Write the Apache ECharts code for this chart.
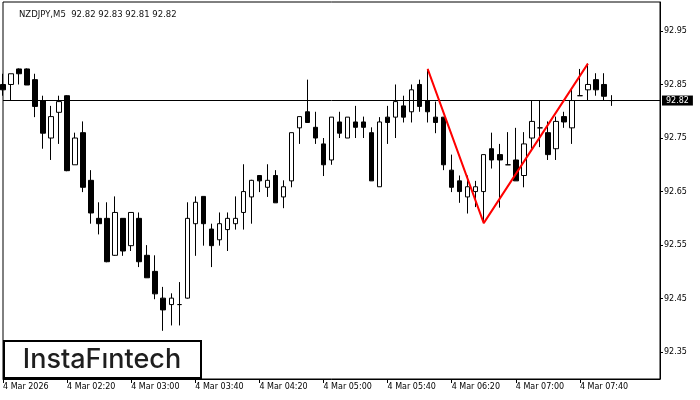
<!DOCTYPE html>
<html>
<head>
<meta charset="utf-8">
<script src="https://cdn.jsdelivr.net/npm/echarts@6/dist/echarts.min.js"></script>
<style>html,body{margin:0;padding:0;background:#fff;}#c{width:700px;height:400px;}</style>
</head>
<body>
<div id="c"></div>
<script>
var times = ['01:40','01:45','01:50','01:55','02:00','02:05','02:10','02:15','02:20','02:25','02:30','02:35','02:40','02:45','02:50','02:55',
'03:00','03:05','03:10','03:15','03:20','03:25','03:30','03:35','03:40','03:45','03:50','03:55','04:00','04:05','04:10','04:15',
'04:20','04:25','04:30','04:35','04:40','04:45','04:50','04:55','05:00','05:05','05:10','05:15','05:20','05:25','05:30','05:35',
'05:40','05:45','05:50','05:55','06:00','06:05','06:10','06:15','06:20','06:25','06:30','06:35','06:40','06:45','06:50','06:55',
'07:00','07:05','07:10','07:15','07:20','07:25','07:30','07:35','07:40','07:45','07:50','07:55','08:00'];

var opens  = [92.850,92.850,92.879,92.879,92.859,92.820,92.750,92.798,92.829,92.700,92.760,92.671,92.600,92.600,92.531,92.600,
92.549,92.600,92.531,92.501,92.451,92.439,92.439,92.451,92.590,92.641,92.580,92.560,92.579,92.590,92.611,92.640,
92.680,92.658,92.680,92.640,92.670,92.769,92.799,92.770,92.739,92.709,92.780,92.750,92.780,92.780,92.760,92.659,
92.789,92.789,92.810,92.799,92.850,92.819,92.789,92.789,92.690,92.670,92.640,92.650,92.650,92.730,92.719,92.700,
92.709,92.680,92.750,92.769,92.760,92.730,92.790,92.769,92.829,92.840,92.859,92.850,92.820];
var closes = [92.840,92.870,92.870,92.849,92.809,92.759,92.790,92.818,92.689,92.750,92.658,92.610,92.590,92.519,92.611,92.539,
92.611,92.519,92.489,92.459,92.429,92.451,92.439,92.600,92.630,92.590,92.549,92.590,92.600,92.600,92.650,92.671,
92.670,92.671,92.629,92.659,92.760,92.790,92.779,92.750,92.700,92.789,92.759,92.789,92.770,92.770,92.670,92.780,
92.779,92.818,92.789,92.840,92.809,92.799,92.779,92.700,92.658,92.650,92.659,92.659,92.719,92.709,92.709,92.700,
92.670,92.739,92.781,92.769,92.719,92.781,92.780,92.820,92.829,92.850,92.840,92.828,92.820];
var lows   = [92.829,92.820,92.850,92.849,92.789,92.730,92.709,92.739,92.688,92.700,92.649,92.590,92.570,92.518,92.530,92.530,
92.539,92.509,92.489,92.449,92.390,92.400,92.400,92.450,92.530,92.549,92.509,92.549,92.539,92.579,92.579,92.590,
92.649,92.640,92.629,92.619,92.658,92.739,92.779,92.739,92.679,92.700,92.750,92.750,92.750,92.750,92.670,92.659,
92.739,92.750,92.779,92.779,92.799,92.779,92.759,92.690,92.649,92.629,92.609,92.621,92.591,92.693,92.620,92.700,
92.670,92.658,92.730,92.733,92.709,92.709,92.769,92.739,92.829,92.820,92.829,92.820,92.810];
var highs  = [92.870,92.870,92.880,92.880,92.870,92.829,92.810,92.829,92.830,92.760,92.781,92.690,92.630,92.630,92.641,92.600,
92.611,92.611,92.550,92.531,92.472,92.460,92.481,92.630,92.641,92.641,92.590,92.611,92.611,92.641,92.701,92.672,
92.680,92.701,92.690,92.671,92.760,92.790,92.859,92.799,92.750,92.789,92.799,92.789,92.810,92.790,92.770,92.789,
92.810,92.850,92.829,92.850,92.859,92.879,92.818,92.789,92.719,92.680,92.680,92.670,92.719,92.760,92.739,92.761,
92.769,92.761,92.820,92.820,92.781,92.790,92.799,92.842,92.879,92.889,92.871,92.871,92.830];

var patternTimes  = ['06:05','06:40','07:45'];
var patternValues = [92.879, 92.591, 92.889];

var currentPrice = 92.82;
var yTickValues = [92.35, 92.45, 92.55, 92.65, 92.75, 92.85, 92.95];
var xTickLabels = ['4 Mar 2026','4 Mar 02:20','4 Mar 03:00','4 Mar 03:40','4 Mar 04:20','4 Mar 05:00','4 Mar 05:40','4 Mar 06:20','4 Mar 07:00','4 Mar 07:40'];
var titleText = 'NZDJPY,M5  92.82 92.83 92.81 92.82';

var candles = times.map(function (t, i) { return [opens[i], closes[i], lows[i], highs[i]]; });
var pattern = patternTimes.map(function (t, i) { return [t, patternValues[i]]; });

var FONT = 'DejaVu Sans';
var chart = echarts.init(document.getElementById('c'), null, { renderer: 'canvas' });
chart.setOption({
  animation: false,
  backgroundColor: '#fff',
  title: {
    text: titleText, left: 14, top: 5,
    textStyle: { fontFamily: FONT, fontSize: 8.5, fontWeight: 'normal', color: '#111' }
  },
  grid: { left: 3, right: 40, top: 2, bottom: 21, show: true, borderColor: '#000', borderWidth: 1, backgroundColor: 'transparent' },
  xAxis: {
    type: 'category', data: times, boundaryGap: false, max: 82,
    axisLine: { lineStyle: { color: '#000', width: 1 } },
    axisTick: { length: 4, lineStyle: { color: '#000' }, interval: function (i) { return i % 8 === 0 && i < times.length; } },
    axisLabel: {
      interval: function (i) { return i % 8 === 0 && i < times.length; },
      formatter: function (v, i) { return xTickLabels[i / 8] || ''; },
      align: 'left', margin: 4, fontFamily: FONT, fontSize: 8, color: '#000'
    },
    splitLine: { show: false }
  },
  yAxis: {
    type: 'value', position: 'right', min: 92.30, max: 93.004, scale: true,
    axisLine: { show: true, lineStyle: { color: '#000', width: 1 } },
    axisTick: { show: true, length: 3, lineStyle: { color: '#000' }, customValues: yTickValues },
    axisLabel: { customValues: yTickValues, formatter: function (v) { return v.toFixed(2); }, margin: 4, fontFamily: FONT, fontSize: 8, color: '#000' },
    splitLine: { show: false }
  },
  series: [
    {
      type: 'candlestick', data: candles, barWidth: 5, clip: true,
      itemStyle: { color: '#fff', color0: '#000', borderColor: '#000', borderColor0: '#000', borderColorDoji: '#000', borderWidth: 1 },
      markLine: {
        silent: true, symbol: 'none', animation: false,
        lineStyle: { color: '#000', width: 1, type: 'solid' },
        label: {
          position: 'end', distance: 2, formatter: function () { return currentPrice.toFixed(2); },
          backgroundColor: '#000', color: '#fff', fontFamily: FONT, fontSize: 8, padding: [1, 4, 0, 4], lineHeight: 9
        },
        data: [{ yAxis: currentPrice }]
      },
      z: 2
    },
    {
      type: 'line', data: pattern, showSymbol: false, symbol: 'none',
      lineStyle: { color: '#ff0000', width: 2 }, z: 5
    }
  ],
  graphic: [
    { type: 'rect', shape: { x: 4, y: 341, width: 197, height: 37 }, style: { fill: '#fff', stroke: '#000', lineWidth: 2 }, z: 100 },
    { type: 'text', x: 102, y: 360, style: { text: 'InstaF\u0131ntech', fontFamily: 'Inter', fontSize: 27, fontWeight: 500, fill: '#1e1e1e', align: 'center', verticalAlign: 'middle' }, z: 101 }
  ]
});
</script>
</body>
</html>
